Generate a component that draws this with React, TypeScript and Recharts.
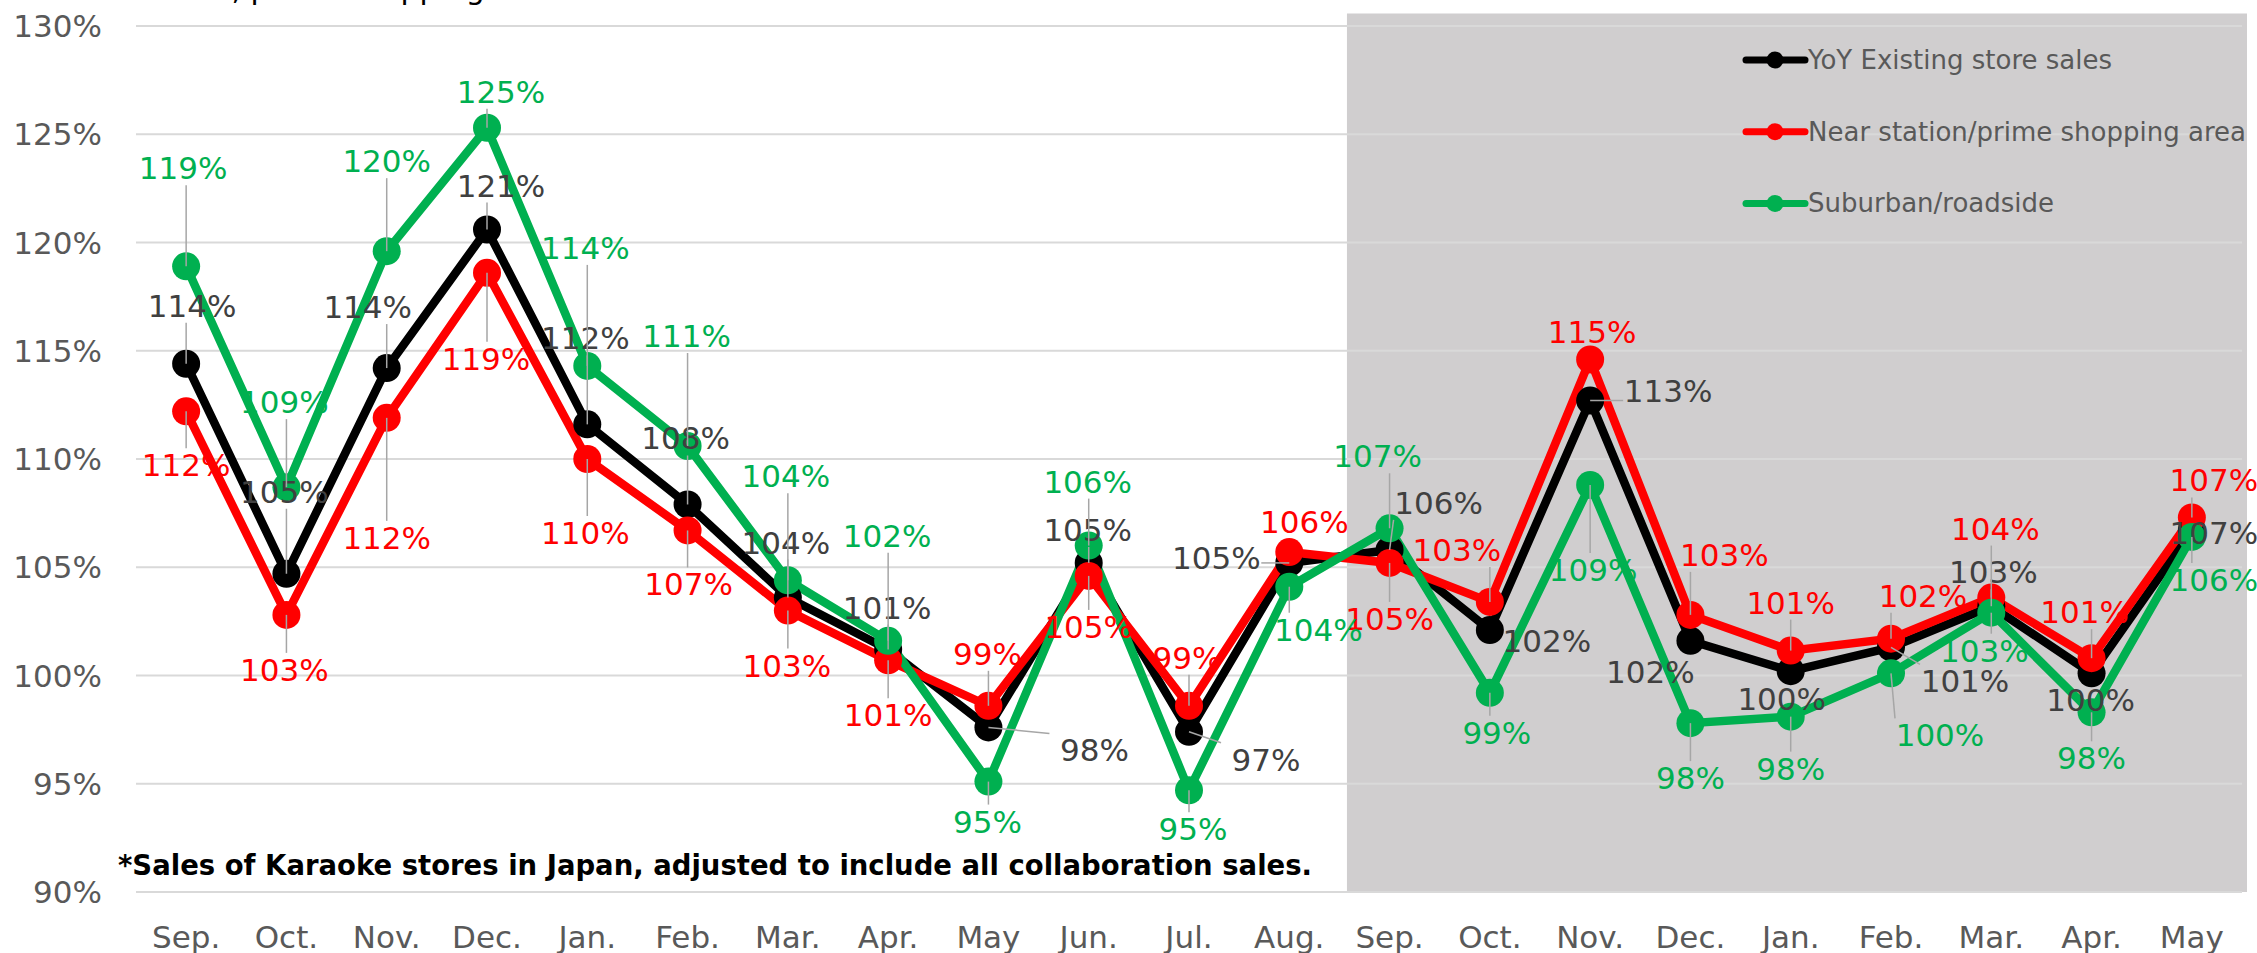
import React from 'react';
import { LineChart, Line, XAxis, YAxis, CartesianGrid, ReferenceArea, LabelList, Legend } from 'recharts';

const months = ['Sep.', 'Oct.', 'Nov.', 'Dec.', 'Jan.', 'Feb.', 'Mar.', 'Apr.', 'May', 'Jun.', 'Jul.', 'Aug.', 'Sep.', 'Oct.', 'Nov.', 'Dec.', 'Jan.', 'Feb.', 'Mar.', 'Apr.', 'May'];
const existing = [114.4, 104.7, 114.2, 120.6, 111.6, 107.9, 103.6, 101.2, 97.6, 105.2, 97.4, 105.2, 105.8, 102.1, 112.7, 101.6, 100.2, 101.3, 103.2, 100.1, 106.7];
const nearStation = [112.2, 102.8, 111.9, 118.6, 110.0, 106.7, 103.0, 100.7, 98.6, 104.6, 98.6, 105.7, 105.2, 103.4, 114.6, 102.8, 101.15, 101.7, 103.6, 100.8, 107.3];
const suburban = [118.9, 108.7, 119.6, 125.3, 114.3, 110.6, 104.4, 101.6, 95.1, 106.0, 94.7, 104.1, 106.8, 99.2, 108.8, 97.8, 98.1, 100.1, 102.9, 98.3, 106.4];
const yTicks = [90, 95, 100, 105, 110, 115, 120, 125, 130];
const seriesNames = ['YoY Existing store sales', 'Near station/prime shopping area', 'Suburban/roadside'];
const seriesColors = ['#000000', '#ff0000', '#00b050'];
const labelColors = ['#404040', '#ff0000', '#00b050'];
const footnote = '*Sales of Karaoke stores in Japan, adjusted to include all collaboration sales.';
const clippedTitle = 'Near station, prime shopping area';

// label offsets (dx, dy) in px relative to the point
const offExisting = [[6, -58], [-2, -82], [-19, -61], [14, -44], [-2, -86], [-2, -66], [-2, -55], [-1, -42], [106, 23], [-1, -33], [77, 28], [-73, -5], [49, -47], [57, 11], [78, -10], [-40, 31], [-9, 28], [74, 34], [2, -34], [-1, 27], [22, 3]];
const offNear = [[0, 54], [-2, 55], [0, 120], [-1, 86], [-2, 74], [1, 54], [-1, 55], [0, 55], [-1, -52], [0, 51], [-2, -48], [15, -30], [0, 56], [-33, -52], [2, -27], [34, -60], [0, -48], [32, -43], [4, -69], [-7, -46], [22, -37]];
const offSuburban = [[-3, -98], [-2, -85], [0, -90], [14, -36], [-2, -118], [-1, -110], [-2, -104], [-1, -105], [-1, 40], [-1, -64], [4, 39], [29, 43], [-12, -72], [7, 40], [3, 85], [0, 55], [0, 52], [49, 62], [-7, 38], [0, 46], [22, 43]];

const shadeX1 = 11.575;
const shadeX2 = 20.55;
const shadeTop = 130.58;

const data = months.map((m, i) => ({ i, existing: existing[i], near: nearStation[i], suburban: suburban[i] }));

const FONT = '"DejaVu Sans", Verdana, sans-serif';
const LINE_W = 8.5;
const DOT_R = 14;

const makeLabel = (offsets: number[][], color: string) => (props: any) => {
  const x = props.x ?? props.viewBox?.x;
  const y = props.y ?? props.viewBox?.y;
  const { value, index } = props;
  if (x == null || y == null || value == null) return null;
  const [dx, dy] = offsets[index] || [0, -40];
  const lx = x + dx;
  const ly = y + dy;
  const hw = 45;
  const hh = 17;
  const ex = Math.min(Math.max(x, lx - hw), lx + hw);
  const ey = Math.min(Math.max(y, ly - hh), ly + hh);
  const dist = Math.hypot(ex - x, ey - y);
  return (
    <g key={`lab-${color}-${index}`}>
      {dist > 15 && <line x1={x} y1={y} x2={ex} y2={ey} stroke="#a6a6a6" strokeWidth={1.5} />}
      <text x={lx} y={ly} textAnchor="middle" dominantBaseline="central" fill={color} fontSize={31} fontFamily={FONT}>
        {Math.round(value)}%
      </text>
    </g>
  );
};

const CustomLegend = () => (
  <svg width={517} height={190} style={{ display: 'block' }}>
    {seriesNames.map((n, k) => {
      const cy = 24 + k * 71.7;
      return (
        <g key={n}>
          <line x1={6} x2={65} y1={cy} y2={cy} stroke={seriesColors[k]} strokeWidth={7} strokeLinecap="round" />
          <circle cx={35} cy={cy} r={8.5} fill={seriesColors[k]} />
          <text x={68} y={cy} dominantBaseline="central" fontSize={26} fill="#595959" fontFamily={FONT}>{n}</text>
        </g>
      );
    })}
  </svg>
);

export default function App() {
  return (
    <div style={{ position: 'absolute', left: 0, top: 0, width: 2257, height: 953, background: '#ffffff', fontFamily: FONT }}>
      <LineChart width={2257} height={953} data={data} margin={{ top: 26, right: 15, bottom: 0, left: 0 }}>
        <ReferenceArea x1={shadeX1} x2={shadeX2} y1={90} y2={shadeTop} fill="#d0cecf" fillOpacity={1} stroke="none" ifOverflow="visible" zIndex={-200} />
        <CartesianGrid vertical={false} stroke="#d9d9d9" strokeWidth={2} />
        <XAxis
          dataKey="i"
          type="number"
          domain={[-0.5, 20.5]}
          ticks={months.map((_, i) => i)}
          interval={0}
          tickFormatter={(v: number) => months[v] ?? ''}
          axisLine={false}
          tickLine={false}
          tickSize={0}
          tickMargin={34}
          height={61}
          tick={{ fill: '#595959', fontSize: 31, fontFamily: FONT }}
        />
        <YAxis
          domain={[90, 130]}
          ticks={yTicks}
          interval={0}
          tickFormatter={(v: number) => `${v}%`}
          axisLine={false}
          tickLine={false}
          tickSize={0}
          tickMargin={34}
          width={136}
          tick={{ fill: '#595959', fontSize: 31, fontFamily: FONT }}
        />
        <Line dataKey="existing" name={seriesNames[0]} type="linear" stroke={seriesColors[0]} strokeWidth={LINE_W} dot={{ r: DOT_R, fill: seriesColors[0], stroke: seriesColors[0], strokeWidth: 0 }} activeDot={false} isAnimationActive={false} />
        <Line dataKey="near" name={seriesNames[1]} type="linear" stroke={seriesColors[1]} strokeWidth={LINE_W} dot={{ r: DOT_R, fill: seriesColors[1], stroke: seriesColors[1], strokeWidth: 0 }} activeDot={false} isAnimationActive={false} />
        <Line dataKey="suburban" name={seriesNames[2]} type="linear" stroke={seriesColors[2]} strokeWidth={LINE_W} dot={{ r: DOT_R, fill: seriesColors[2], stroke: seriesColors[2], strokeWidth: 0 }} activeDot={false} isAnimationActive={false} />
        <Line dataKey="existing" stroke="none" dot={false} activeDot={false} legendType="none" isAnimationActive={false}>
          <LabelList dataKey="existing" content={makeLabel(offExisting, labelColors[0])} />
        </Line>
        <Line dataKey="near" stroke="none" dot={false} activeDot={false} legendType="none" isAnimationActive={false}>
          <LabelList dataKey="near" content={makeLabel(offNear, labelColors[1])} />
        </Line>
        <Line dataKey="suburban" stroke="none" dot={false} activeDot={false} legendType="none" isAnimationActive={false}>
          <LabelList dataKey="suburban" content={makeLabel(offSuburban, labelColors[2])} />
        </Line>
        <Legend
          layout="vertical"
          align="center"
          verticalAlign="middle"
          content={() => <CustomLegend />}
          wrapperStyle={{ position: 'absolute', left: 1740, top: 36, width: 517, height: 190 }}
        />
      </LineChart>
      <svg width={2257} height={953} style={{ position: 'absolute', left: 0, top: 0, pointerEvents: 'none' }}>
        <text x={47} y={-1} fontSize={30} fill="#000000" fontFamily={FONT}>{clippedTitle}</text>
        <text x={118} y={875} fontSize={28} fontWeight="bold" fill="#000000" fontFamily={FONT} textLength={1194} lengthAdjust="spacingAndGlyphs">{footnote}</text>
      </svg>
    </div>
  );
}
